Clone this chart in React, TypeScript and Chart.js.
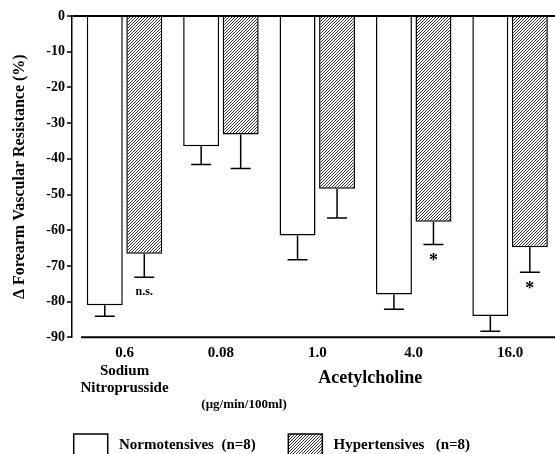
import React, { useEffect, useRef } from 'react';
import { Chart, registerables } from 'chart.js';

Chart.register(...registerables);

const categories = ['0.6', '0.08', '1.0', '4.0', '16.0'];
const subLabels: string[][] = [['Sodium', 'Nitroprusside'], [], [], [], []];
const normotensiveMean = [-81.0, -36.5, -61.5, -78.0, -84.0];
const normotensiveSem = [3.1, 5.1, 6.8, 4.1, 4.3];
const hypertensiveMean = [-66.6, -33.2, -48.4, -57.6, -64.8];
const hypertensiveSem = [6.6, 9.5, 8.2, 6.4, 7.0];
const significance = ['n.s.', '', '', '*', '*'];
const yTicks = [0, -10, -20, -30, -40, -50, -60, -70, -80, -90];
const seriesNames = ['Normotensives  (n=8)', 'Hypertensives   (n=8)'];
const yTitle = 'Δ Forearm Vascular Resistance (%)';
const groupLabel = 'Acetylcholine';
const unitLabel = '(μg/min/100ml)';

const FAMILY = '"Liberation Serif", "Times New Roman", serif';

function makeHatch(): CanvasPattern | string {
  const dpr = window.devicePixelRatio || 1;
  const t = 3;
  const c = document.createElement('canvas');
  c.width = t * dpr;
  c.height = t * dpr;
  const g = c.getContext('2d');
  if (!g) return '#999';
  g.scale(dpr, dpr);
  g.fillStyle = '#fff';
  g.fillRect(0, 0, t, t);
  g.strokeStyle = '#000';
  g.lineWidth = 0.8;
  g.beginPath();
  g.moveTo(0, t);
  g.lineTo(t, 0);
  g.moveTo(-1, 1);
  g.lineTo(1, -1);
  g.moveTo(t - 1, t + 1);
  g.lineTo(t + 1, t - 1);
  g.stroke();
  const p = g.createPattern(c, 'repeat');
  if (!p) return '#999';
  if (dpr !== 1 && (p as any).setTransform) {
    (p as any).setTransform(new DOMMatrix().scale(1 / dpr, 1 / dpr));
  }
  return p;
}

const extrasPlugin = {
  id: 'extras',
  afterDatasetsDraw(chart: any) {
    const { ctx, chartArea } = chart;
    const x = chart.scales.x;
    const y = chart.scales.y;
    ctx.save();
    ctx.strokeStyle = '#000';
    ctx.fillStyle = '#000';
    [0, 1].forEach((di) => {
      const meta = chart.getDatasetMeta(di);
      const errs = di === 0 ? normotensiveSem : hypertensiveSem;
      const means = di === 0 ? normotensiveMean : hypertensiveMean;
      meta.data.forEach((bar: any, i: number) => {
        const yEnd = y.getPixelForValue(means[i] - errs[i]);
        ctx.lineWidth = 1.5;
        ctx.beginPath();
        ctx.moveTo(bar.x, bar.y);
        ctx.lineTo(bar.x, yEnd);
        ctx.moveTo(bar.x - 10, yEnd);
        ctx.lineTo(bar.x + 10, yEnd);
        ctx.stroke();
        if (di === 1 && significance[i]) {
          const s = significance[i];
          ctx.textAlign = 'center';
          ctx.textBaseline = 'middle';
          if (s === '*') {
            ctx.font = `bold 18px ${FAMILY}`;
            ctx.fillText(s, bar.x, yEnd + 17);
          } else {
            ctx.font = `bold 12px ${FAMILY}`;
            ctx.fillText(s, bar.x, yEnd + 15);
          }
        }
      });
    });
    // x axis line
    ctx.lineWidth = 2;
    ctx.beginPath();
    ctx.moveTo(chartArea.left + 9, chartArea.bottom);
    ctx.lineTo(chartArea.right, chartArea.bottom);
    ctx.stroke();
    // group labels
    ctx.textAlign = 'center';
    ctx.textBaseline = 'middle';
    ctx.font = `bold 18px ${FAMILY}`;
    ctx.fillText(groupLabel, x.getPixelForValue(2.55), chartArea.bottom + 41);
    ctx.font = `bold 13px ${FAMILY}`;
    ctx.fillText(unitLabel, x.getPixelForValue(1.24), chartArea.bottom + 67);
    ctx.restore();
  },
};

export default function App() {
  const ref = useRef<HTMLCanvasElement | null>(null);
  useEffect(() => {
    if (!ref.current) return;
    const hatch = makeHatch();
    const fills: any[] = ['#fff', hatch];
    const chart = new Chart(ref.current, {
      type: 'bar',
      data: {
        datasets: [
          {
            label: seriesNames[0],
            data: normotensiveMean.map((v, i) => ({ x: i, y: v })),
            backgroundColor: '#fff',
            borderColor: '#000',
            borderWidth: 1.5,
          },
          {
            label: seriesNames[1],
            data: hypertensiveMean.map((v, i) => ({ x: i, y: v })),
            backgroundColor: hatch as any,
            borderColor: '#000',
            borderWidth: 1.5,
          },
        ],
      },
      options: {
        animation: false,
        responsive: true,
        maintainAspectRatio: false,
        layout: { padding: { top: 16, left: 0, right: 0, bottom: 0 } },
        datasets: { bar: { categoryPercentage: 0.82, barPercentage: 0.91 } },
        scales: {
          x: {
            type: 'linear',
            min: -0.545,
            max: 4.466,
            offset: false,
            afterBuildTicks: (s: any) => {
              s.ticks = categories.map((_, i) => ({ value: i }));
            },
            afterFit: (s: any) => {
              s.height = s.height + 20;
            },
            grid: { display: false, drawTicks: false },
            border: { display: false },
            ticks: {
              callback: (_v: any, i: number) => [categories[i], ...subLabels[i]],
              font: { family: FAMILY, size: 15, weight: 'bold', lineHeight: 1.17 },
              color: '#000',
              padding: 7,
              maxRotation: 0,
              autoSkip: false,
            },
          },
          y: {
            min: -90,
            max: 0,
            afterBuildTicks: (s: any) => {
              s.ticks = yTicks.map((v) => ({ value: v }));
            },
            afterFit: (s: any) => {
              s.width = 72;
            },
            ticks: {
              font: { family: FAMILY, size: 14, weight: 'bold' },
              color: '#000',
              padding: 2,
            },
            grid: {
              color: (c: any) => (c.tick && c.tick.value === 0 ? '#000' : 'rgba(0,0,0,0)'),
              lineWidth: (c: any) => (c.tick && c.tick.value === 0 ? 2 : 0),
              tickColor: '#000',
              tickLength: 5,
              tickWidth: 1.5,
              drawOnChartArea: true,
            },
            border: { display: true, color: '#000', width: 1.5 },
            title: {
              display: true,
              text: yTitle,
              font: { family: FAMILY, size: 16, weight: 'bold' },
              color: '#000',
              padding: { top: 10, bottom: 0 },
            },
          },
        },
        plugins: {
          legend: {
            position: 'bottom',
            labels: {
              boxWidth: 34,
              boxHeight: 22,
              padding: 10,
              color: '#000',
              font: { family: FAMILY, size: 15, weight: 'bold' },
              generateLabels: () =>
                seriesNames.map((t, i) => ({
                  text: ' ' + t + (i === 0 ? '      ' : '   '),
                  fillStyle: fills[i],
                  strokeStyle: '#000',
                  lineWidth: 1.5,
                  hidden: false,
                  datasetIndex: i,
                  fontColor: '#000',
                })),
            },
          },
          tooltip: { enabled: false },
        },
      } as any,
      plugins: [extrasPlugin],
    });
    return () => chart.destroy();
  }, []);
  return (
    <div style={{ position: 'fixed', left: 0, top: 0, width: 555, height: 466, background: '#fff' }}>
      <canvas ref={ref} />
    </div>
  );
}
